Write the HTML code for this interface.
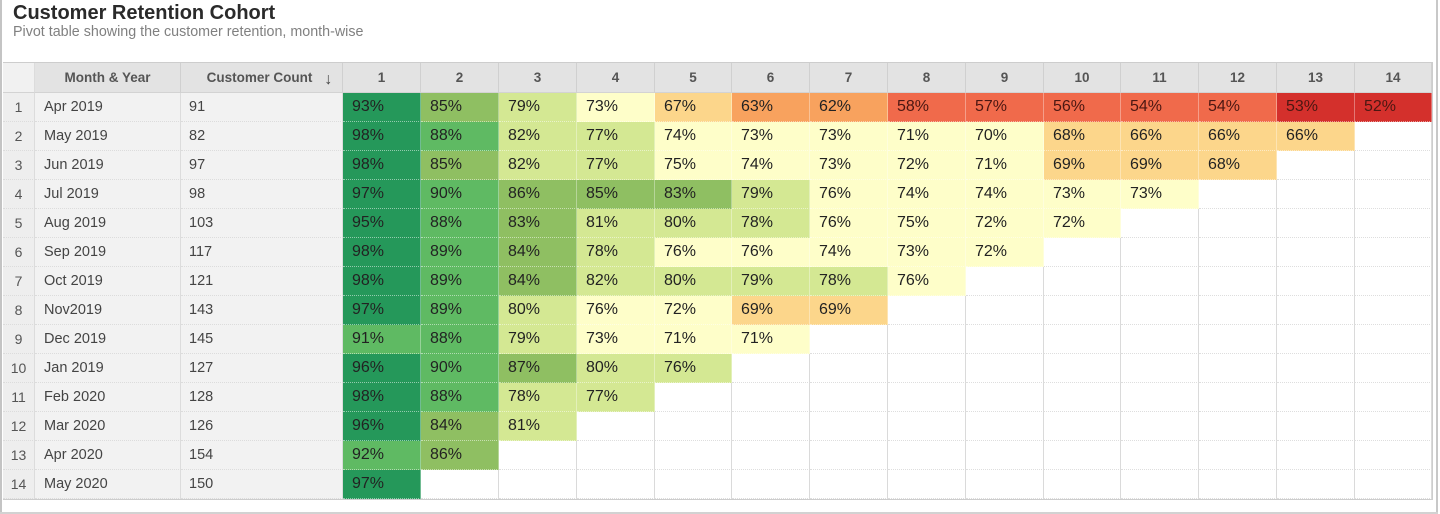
<!DOCTYPE html>
<html>
<head>
<meta charset="utf-8">
<style>
*{margin:0;padding:0;box-sizing:border-box}
html,body{width:1440px;height:514px;background:#fff;overflow:hidden;font-family:"Liberation Sans",Arial,sans-serif}
.fl{position:absolute;left:0;top:0;width:2px;height:514px;background:#c4c4c4}
.fr{position:absolute;left:1436px;top:0;width:2px;height:514px;background:#c8c8c8}
.fb{position:absolute;left:0;top:512px;width:1438px;height:2px;background:#d2d2d2}
.t{position:absolute;left:13px;top:3px;font-size:20px;line-height:20px;font-weight:bold;color:#2a2a2a;white-space:nowrap}
.s{position:absolute;left:13px;top:24px;font-size:14.3px;line-height:16px;color:#808080;white-space:nowrap}
.g{position:absolute;left:3px;top:62px;display:grid;
grid-template-columns:32px 146px 162px 78px 78px 78px 78px 77px 78px 78px 78px 78px 77px 78px 78px 78px 77px;
grid-template-rows:30px repeat(14,29px);border-top:1px solid #cdcdcd;border-right:1px solid #cdcdcd;border-bottom:1px solid #cdcdcd}
.g>div{display:flex;align-items:center;white-space:nowrap;overflow:hidden}
.h{background:#e3e3e3;font-weight:bold;font-size:13.5px;color:#555;justify-content:center;border-right:1px solid #d0d0d0;border-bottom:1px solid #d3d3d3}
.hc{padding-left:16px}
.h0{background:#f1f1f1;border-right:1px solid #dcdcdc;border-bottom:1px solid #d3d3d3}
.n{background:#eeeeee;color:#555;font-size:14px;justify-content:center;border-right:1px solid #dcdcdc;border-bottom:1px dotted #dcdcdc}
.m{background:#f2f2f2;color:#444;font-size:14.5px;padding-left:9px;border-right:1px solid #dcdcdc;border-bottom:1px dotted #dcdcdc}
.c{background:#f2f2f2;color:#444;font-size:14.5px;padding-left:8px;border-right:1px solid #dcdcdc;border-bottom:1px dotted #dcdcdc}
.p{font-size:16px;color:#222;padding-left:9px;border-right:1px solid rgba(255,255,255,.35);border-bottom:1px dotted rgba(255,255,255,.5)}
.a{background:#25985a}
.b{background:#5fba63}
.o{background:#8fbf62}
.gg{background:#d4e893}
.y{background:#fefec9}
.l{background:#fcd68b}
.r1{background:#f8a25e}
.r2{background:#f06a4b;color:#4b1712}
.r3{background:#d4302c;color:#4b1712}
.e{background:#fff;border-right:1px solid #dadada;border-bottom:1px dotted #dedede}
.ar{font-size:16px;font-weight:bold;margin-left:12px;position:relative;top:2px;color:#444}
</style>
</head>
<body>
<div class="fl"></div><div class="fr"></div><div class="fb"></div>
<div class="t">Customer Retention Cohort</div>
<div class="s">Pivot table showing the customer retention, month-wise</div>
<div class="g">
<div class="h0"></div><div class="h">Month &amp; Year</div><div class="h hc">Customer Count<span class="ar">↓</span></div>
<div class="h">1</div><div class="h">2</div><div class="h">3</div><div class="h">4</div><div class="h">5</div><div class="h">6</div><div class="h">7</div><div class="h">8</div><div class="h">9</div><div class="h">10</div><div class="h">11</div><div class="h">12</div><div class="h">13</div><div class="h">14</div>

<div class="n">1</div><div class="m">Apr 2019</div><div class="c">91</div>
<div class="p a">93%</div><div class="p o">85%</div><div class="p gg">79%</div><div class="p y">73%</div><div class="p l">67%</div><div class="p r1">63%</div><div class="p r1">62%</div><div class="p r2">58%</div><div class="p r2">57%</div><div class="p r2">56%</div><div class="p r2">54%</div><div class="p r2">54%</div><div class="p r3">53%</div><div class="p r3">52%</div>

<div class="n">2</div><div class="m">May 2019</div><div class="c">82</div>
<div class="p a">98%</div><div class="p b">88%</div><div class="p gg">82%</div><div class="p gg">77%</div><div class="p y">74%</div><div class="p y">73%</div><div class="p y">73%</div><div class="p y">71%</div><div class="p y">70%</div><div class="p l">68%</div><div class="p l">66%</div><div class="p l">66%</div><div class="p l">66%</div><div class="e"></div>

<div class="n">3</div><div class="m">Jun 2019</div><div class="c">97</div>
<div class="p a">98%</div><div class="p o">85%</div><div class="p gg">82%</div><div class="p gg">77%</div><div class="p y">75%</div><div class="p y">74%</div><div class="p y">73%</div><div class="p y">72%</div><div class="p y">71%</div><div class="p l">69%</div><div class="p l">69%</div><div class="p l">68%</div><div class="e"></div><div class="e"></div>

<div class="n">4</div><div class="m">Jul 2019</div><div class="c">98</div>
<div class="p a">97%</div><div class="p b">90%</div><div class="p o">86%</div><div class="p o">85%</div><div class="p o">83%</div><div class="p gg">79%</div><div class="p y">76%</div><div class="p y">74%</div><div class="p y">74%</div><div class="p y">73%</div><div class="p y">73%</div><div class="e"></div><div class="e"></div><div class="e"></div>

<div class="n">5</div><div class="m">Aug 2019</div><div class="c">103</div>
<div class="p a">95%</div><div class="p b">88%</div><div class="p o">83%</div><div class="p gg">81%</div><div class="p gg">80%</div><div class="p gg">78%</div><div class="p y">76%</div><div class="p y">75%</div><div class="p y">72%</div><div class="p y">72%</div><div class="e"></div><div class="e"></div><div class="e"></div><div class="e"></div>

<div class="n">6</div><div class="m">Sep 2019</div><div class="c">117</div>
<div class="p a">98%</div><div class="p b">89%</div><div class="p o">84%</div><div class="p gg">78%</div><div class="p y">76%</div><div class="p y">76%</div><div class="p y">74%</div><div class="p y">73%</div><div class="p y">72%</div><div class="e"></div><div class="e"></div><div class="e"></div><div class="e"></div><div class="e"></div>

<div class="n">7</div><div class="m">Oct 2019</div><div class="c">121</div>
<div class="p a">98%</div><div class="p b">89%</div><div class="p o">84%</div><div class="p gg">82%</div><div class="p gg">80%</div><div class="p gg">79%</div><div class="p gg">78%</div><div class="p y">76%</div><div class="e"></div><div class="e"></div><div class="e"></div><div class="e"></div><div class="e"></div><div class="e"></div>

<div class="n">8</div><div class="m">Nov2019</div><div class="c">143</div>
<div class="p a">97%</div><div class="p b">89%</div><div class="p gg">80%</div><div class="p y">76%</div><div class="p y">72%</div><div class="p l">69%</div><div class="p l">69%</div><div class="e"></div><div class="e"></div><div class="e"></div><div class="e"></div><div class="e"></div><div class="e"></div><div class="e"></div>

<div class="n">9</div><div class="m">Dec 2019</div><div class="c">145</div>
<div class="p b">91%</div><div class="p b">88%</div><div class="p gg">79%</div><div class="p y">73%</div><div class="p y">71%</div><div class="p y">71%</div><div class="e"></div><div class="e"></div><div class="e"></div><div class="e"></div><div class="e"></div><div class="e"></div><div class="e"></div><div class="e"></div>

<div class="n">10</div><div class="m">Jan 2019</div><div class="c">127</div>
<div class="p a">96%</div><div class="p b">90%</div><div class="p o">87%</div><div class="p gg">80%</div><div class="p gg">76%</div><div class="e"></div><div class="e"></div><div class="e"></div><div class="e"></div><div class="e"></div><div class="e"></div><div class="e"></div><div class="e"></div><div class="e"></div>

<div class="n">11</div><div class="m">Feb 2020</div><div class="c">128</div>
<div class="p a">98%</div><div class="p b">88%</div><div class="p gg">78%</div><div class="p gg">77%</div><div class="e"></div><div class="e"></div><div class="e"></div><div class="e"></div><div class="e"></div><div class="e"></div><div class="e"></div><div class="e"></div><div class="e"></div><div class="e"></div>

<div class="n">12</div><div class="m">Mar 2020</div><div class="c">126</div>
<div class="p a">96%</div><div class="p o">84%</div><div class="p gg">81%</div><div class="e"></div><div class="e"></div><div class="e"></div><div class="e"></div><div class="e"></div><div class="e"></div><div class="e"></div><div class="e"></div><div class="e"></div><div class="e"></div><div class="e"></div>

<div class="n">13</div><div class="m">Apr 2020</div><div class="c">154</div>
<div class="p b">92%</div><div class="p o">86%</div><div class="e"></div><div class="e"></div><div class="e"></div><div class="e"></div><div class="e"></div><div class="e"></div><div class="e"></div><div class="e"></div><div class="e"></div><div class="e"></div><div class="e"></div><div class="e"></div>

<div class="n">14</div><div class="m">May 2020</div><div class="c">150</div>
<div class="p a">97%</div><div class="e"></div><div class="e"></div><div class="e"></div><div class="e"></div><div class="e"></div><div class="e"></div><div class="e"></div><div class="e"></div><div class="e"></div><div class="e"></div><div class="e"></div><div class="e"></div><div class="e"></div>
</div>
</body>
</html>
